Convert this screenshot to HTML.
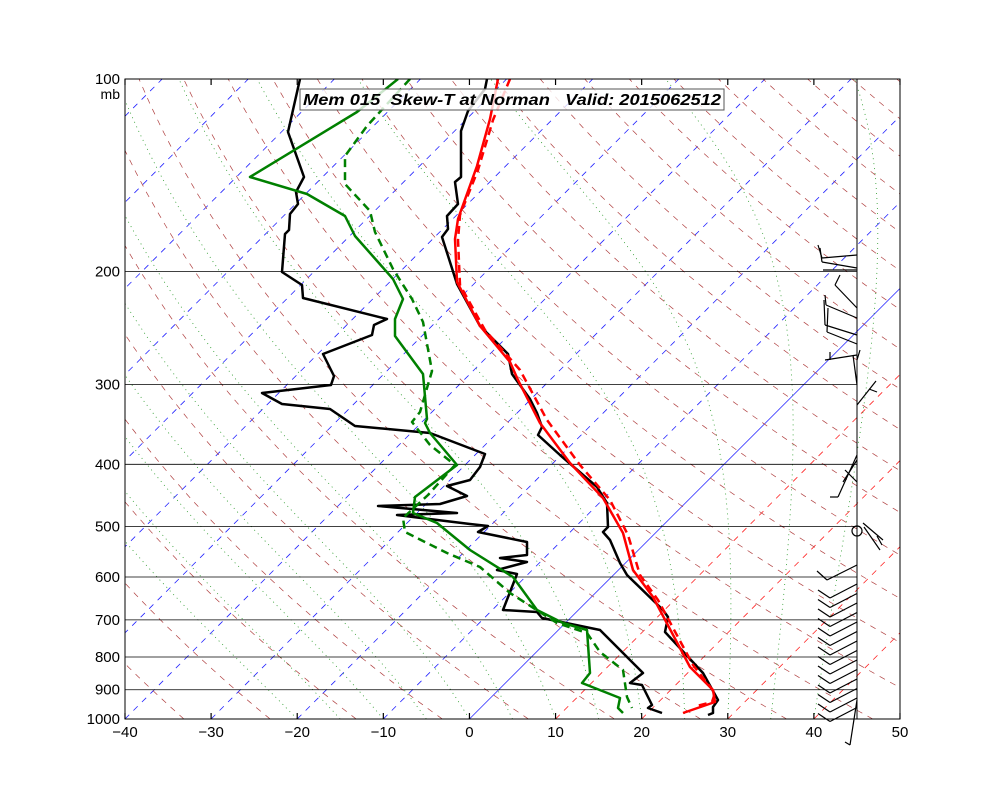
<!DOCTYPE html>
<html><head><meta charset="utf-8">
<style>
html,body{margin:0;padding:0;background:#fff;}
svg{display:block;font-family:"Liberation Sans",sans-serif;}
</style></head>
<body>
<svg id="s" width="1000" height="800" xmlns="http://www.w3.org/2000/svg">
<defs><clipPath id="c"><rect x="125" y="79" width="775" height="640"/></clipPath></defs>
<rect width="1000" height="800" fill="#fff"/>
<g id="bg" clip-path="url(#c)"></g>
<g id="data" clip-path="url(#c)"></g>
<g id="ax"></g>
</svg>
<script>
var NS="http://www.w3.org/2000/svg";
function el(p,tag,a,txt){var e=document.createElementNS(NS,tag);for(var k in a)e.setAttribute(k,a[k]);if(txt!==undefined)e.textContent=txt;document.getElementById(p).appendChild(e);return e;}
function Y(p){return 79+640*Math.log10(p/100);}
function X(T,p){return 469.4+T*8.611+(719-Y(p))*1.0;}
function pl(pts){return pts.map(function(q){return q[0].toFixed(1)+","+q[1].toFixed(1);}).join(" ");}
for(var T=-150;T<=50;T+=10){
  var col=T<0?"#2020ff":(T==0?"#3030ff":"#ff2020");
  var a={x1:X(T,1000),y1:Y(1000),x2:X(T,100),y2:Y(100),stroke:col,"stroke-width":0.8};
  if(T!=0)a["stroke-dasharray"]="6,6";
  el("bg","line",a);
}
for(var th=230;th<=480;th+=10){
  var pts=[];for(var p=1000;p>=100;p-=10){pts.push([X(th*Math.pow(p/1000,0.286)-273.15,p),Y(p)]);}
  el("bg","polyline",{points:pl(pts),fill:"none",stroke:"#b04040","stroke-width":0.7,"stroke-dasharray":"6,6"});
}
function es(Tc){return 6.112*Math.exp(17.67*Tc/(Tc+243.5));}
for(var T0=-20;T0<=40;T0+=5){
  var Tk=T0+273.15,pts=[[X(T0,1000),Y(1000)]];
  for(var p=1000;p>100;p-=2){
    var Tc=Tk-273.15,e=es(Tc),rs=0.622*e/(p-e);
    var dTdp=(287*Tk+2.5e6*rs)/(1004+2.5e6*2.5e6*rs*0.622/(287*Tk*Tk))/p;
    Tk-=dTdp*2;pts.push([X(Tk-273.15,p-2),Y(p-2)]);
  }
  el("bg","polyline",{points:pl(pts),fill:"none",stroke:"#2a9a2a","stroke-width":0.8,"stroke-dasharray":"1,4"});
}
[200,300,400,500,600,700,800,900].forEach(function(p){el("bg","line",{x1:125,x2:857,y1:Y(p),y2:Y(p),stroke:"#000","stroke-width":0.8});});
el("bg","line",{x1:857,x2:857,y1:79,y2:719,stroke:"#000","stroke-width":1});
function line(pts,col,dash){var a={points:pl(pts),fill:"none",stroke:col,"stroke-width":2.5,"stroke-linejoin":"round"};if(dash)a["stroke-dasharray"]="8,5";el("data","polyline",a);}
line([[300,79],[288,132],[304,177],[296,192],[298,204],[290,214],[289,230],[285,234],[282,272],[302,285],[303,298],[387,319],[374,325],[372,335],[323,354],[334,376],[331,385],[262,393],[282,404],[330,409],[355,426],[430,433],[485,454],[480,467],[470,480],[447,486],[467,496],[440,504],[378,506],[457,513],[397,515],[413,517],[470,524],[488,526],[478,532],[527,542],[527,555],[500,558],[527,562],[497,570],[517,574],[503,610],[537,612],[542,618],[600,630],[643,673],[630,683],[642,685],[652,705],[648,708],[662,713]],"#000");
line([[487,79],[485,89],[468,111],[461,131],[461,177],[455,182],[458,204],[447,216],[448,229],[442,237],[457,284],[480,326],[508,354],[512,374],[530,399],[537,413],[542,427],[538,435],[560,455],[597,487],[607,503],[608,527],[603,532],[610,540],[620,563],[627,575],[663,610],[668,617],[665,632],[703,673],[718,700],[713,707],[713,713],[708,715]],"#000");
line([[510,79],[493,120],[478,170],[460,215],[458,240],[460,285],[485,330],[520,370],[547,420],[580,465],[610,500],[628,535],[640,575],[658,600],[693,665],[715,693],[712,702],[697,706]],"#f00",true);
line([[498,79],[490,119],[477,166],[458,219],[455,239],[457,282],[480,326],[510,362],[518,380],[540,423],[570,463],[603,498],[623,533],[633,570],[653,597],[690,667],[713,690],[715,702],[683,713]],"#f00");
line([[410,79],[367,126],[345,156],[345,184],[370,211],[375,232],[393,269],[412,299],[423,322],[432,371],[420,412],[412,422],[430,445],[455,465],[428,495],[403,518],[405,532],[447,553],[480,567],[510,593],[557,623],[587,633],[600,652],[623,670],[627,697],[632,708]],"#008000",true);
line([[398,79],[357,112],[250,177],[307,194],[345,216],[355,236],[393,279],[403,299],[395,319],[395,336],[423,374],[427,419],[425,423],[430,433],[457,465],[415,497],[413,513],[437,523],[470,550],[513,577],[537,610],[563,623],[587,630],[590,673],[582,683],[620,698],[618,708],[623,713]],"#008000");
function b(x1,y1,x2,y2){el("ax","line",{x1:x1,y1:y1,x2:x2,y2:y2,stroke:"#000","stroke-width":1.2});}
b(857,255,822,258);b(822,258,818,245);b(857,268,822,262);b(822,262,820,248);b(857,270,823,270);
b(857,308,835,285);b(835,285,840,275);
b(857,318,826,305);b(826,305,825,295);b(857,335,825,325);b(825,325,824,300);b(857,344,827,332);b(827,332,828,308);
b(857,355,825,360);b(830,360,830,352);b(857,385,853,355);b(857,360,860,350);
b(857,405,876,381);b(869,389,877,392);
b(857,455,838,497);b(838,497,830,497);b(857,460,843,482);
b(857,482,845,470);
el("ax","circle",{cx:857,cy:531,r:5,fill:"none",stroke:"#000","stroke-width":1.2});
b(863,523,883,540);b(864,527,880,550);b(877,536,882,545);
b(857,565,827,580);b(827,580,817,571);
for(var i=0;i<14;i++){var y=590+i*9.5;b(857,y-6,830,y+8);b(830,y+8,818,y);}
b(857,700,850,745);b(850,745,845,742);
el("ax","rect",{x:125,y:79,width:775,height:640,fill:"none",stroke:"#000","stroke-width":1});
for(var T=-40;T<=50;T+=10){var x=125+(T+40)*8.611;b(x,719,x,713);b(x,79,x,85);el("ax","text",{x:x,y:737,"text-anchor":"middle","font-size":15},(T<0?"\u2212"+(-T):T));}
[100,200,300,400,500,600,700,800,900,1000].forEach(function(p){el("ax","text",{x:120,y:Y(p)+5,"text-anchor":"end","font-size":15},p);});
el("ax","text",{x:120,y:99,"text-anchor":"end","font-size":14},"mb");
el("ax","rect",{x:300,y:89,width:424,height:21,fill:"#fff","fill-opacity":0.8,stroke:"#555","stroke-width":1});
el("ax","text",{x:303,y:105,"font-size":16,"font-weight":"bold","font-style":"italic",style:"white-space:pre",textLength:418,lengthAdjust:"spacingAndGlyphs"},"Mem 015  Skew-T at Norman   Valid: 2015062512");
</script>
</body></html>
